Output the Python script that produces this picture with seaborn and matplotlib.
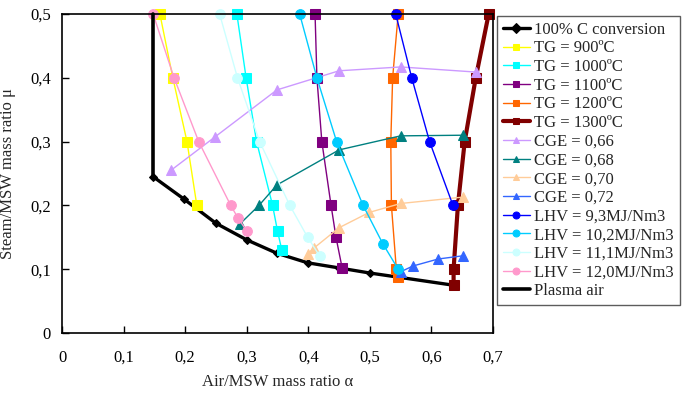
import matplotlib
matplotlib.use("Agg")
import matplotlib.pyplot as plt
import seaborn as sns
import numpy as np
from matplotlib.ticker import FuncFormatter, MultipleLocator

# ---- data ----
c100_x = [0.148, 0.198, 0.250, 0.300, 0.349, 0.399, 0.450, 0.500, 0.550, 0.635]
c100_y = [0.245, 0.210, 0.172, 0.146, 0.125, 0.110, 0.102, 0.094, 0.087, 0.075]

tg900_x = [0.159, 0.180, 0.203, 0.219]
tg900_y = [0.50, 0.40, 0.30, 0.20]
tg1000_x = [0.284, 0.299, 0.316, 0.342, 0.350, 0.357]
tg1000_y = [0.50, 0.40, 0.30, 0.20, 0.16, 0.13]
tg1100_x = [0.411, 0.414, 0.422, 0.437, 0.445, 0.455]
tg1100_y = [0.50, 0.40, 0.30, 0.20, 0.15, 0.102]
tg1200_x = [0.546, 0.537, 0.534, 0.535, 0.543, 0.546]
tg1200_y = [0.50, 0.40, 0.30, 0.20, 0.10, 0.088]
tg1300_x = [0.693, 0.672, 0.654, 0.643, 0.636, 0.636]
tg1300_y = [0.50, 0.40, 0.30, 0.20, 0.10, 0.075]

cge66_x = [0.177, 0.248, 0.349, 0.450, 0.550, 0.672]
cge66_y = [0.255, 0.307, 0.381, 0.411, 0.417, 0.409]
cge68_x = [0.289, 0.320, 0.349, 0.450, 0.550, 0.651]
cge68_y = [0.171, 0.200, 0.232, 0.287, 0.309, 0.310]
cge70_x = [0.399, 0.409, 0.450, 0.499, 0.550, 0.651]
cge70_y = [0.124, 0.133, 0.165, 0.189, 0.203, 0.213]
cge72_x = [0.550, 0.570, 0.611, 0.651]
cge72_y = [0.096, 0.105, 0.116, 0.121]

lhv93_x = [0.542, 0.568, 0.597, 0.635]
lhv93_y = [0.50, 0.40, 0.30, 0.20]
lhv102_x = [0.386, 0.414, 0.446, 0.489, 0.521, 0.546]
lhv102_y = [0.50, 0.40, 0.30, 0.20, 0.14, 0.10]
lhv111_x = [0.256, 0.285, 0.321, 0.370, 0.399, 0.419]
lhv111_y = [0.50, 0.40, 0.30, 0.20, 0.15, 0.12]
lhv120_x = [0.148, 0.182, 0.222, 0.274, 0.286, 0.300]
lhv120_y = [0.50, 0.40, 0.30, 0.20, 0.18, 0.16]

plasma_x = [0.148, 0.148]
plasma_y = [0.500, 0.245]

x_ticks = [0, 0.1, 0.2, 0.3, 0.4, 0.5, 0.6, 0.7]
y_ticks = [0, 0.1, 0.2, 0.3, 0.4, 0.5]

series = [
    ("100% C conversion", c100_x, c100_y, "#000000", "D", 2.4, 4.5),
    ("TG = 900ºC", tg900_x, tg900_y, "#ffff00", "s", 1.0, 6.5),
    ("TG = 1000ºC", tg1000_x, tg1000_y, "#00ffff", "s", 1.0, 6.5),
    ("TG = 1100ºC", tg1100_x, tg1100_y, "#800080", "s", 1.0, 6.5),
    ("TG = 1200ºC", tg1200_x, tg1200_y, "#ff6600", "s", 1.0, 6.5),
    ("TG = 1300ºC", tg1300_x, tg1300_y, "#800000", "s", 3.0, 6.5),
    ("CGE = 0,66", cge66_x, cge66_y, "#cc99ff", "^", 1.0, 7),
    ("CGE = 0,68", cge68_x, cge68_y, "#008080", "^", 1.0, 7),
    ("CGE = 0,70", cge70_x, cge70_y, "#ffcc99", "^", 1.0, 7),
    ("CGE = 0,72", cge72_x, cge72_y, "#3366ff", "^", 1.0, 7),
    ("LHV = 9,3MJ/Nm3", lhv93_x, lhv93_y, "#0000ff", "o", 1.0, 7),
    ("LHV = 10,2MJ/Nm3", lhv102_x, lhv102_y, "#00ccff", "o", 1.0, 7),
    ("LHV = 11,1MJ/Nm3", lhv111_x, lhv111_y, "#ccffff", "o", 1.0, 7),
    ("LHV = 12,0MJ/Nm3", lhv120_x, lhv120_y, "#ff99cc", "o", 1.0, 7),
    ("Plasma air", plasma_x, plasma_y, "#000000", None, 2.6, 0),
]

sns.set_style("ticks")
plt.rcParams['font.family'] = ['Liberation Serif', 'DejaVu Serif']
plt.rcParams['mathtext.fontset'] = 'stix'

fig = plt.figure(figsize=(6.85, 3.96), dpi=100)
ax = fig.add_axes([62/685, 1-333/396, (493-62)/685, (333-14)/396])

for name, xs, ys, col, mk, lw, ms in series:
    kw = dict(marker=mk, markersize=ms, markeredgecolor=col, markerfacecolor=col) if mk else {}
    sns.lineplot(x=xs, y=ys, ax=ax, sort=False, estimator=None, color=col,
                 linewidth=lw, label=name, clip_on=False, **kw)

ax.set_xlim(0, 0.7)
ax.set_ylim(0, 0.5)
ax.set_xticks(x_ticks)
ax.set_yticks(y_ticks)
fmt = FuncFormatter(lambda v, p: "0" if abs(v) < 1e-9 else f"{v:.1f}".replace('.', ','))
ax.xaxis.set_major_formatter(fmt)
ax.yaxis.set_major_formatter(fmt)
ax.tick_params(direction='in', length=5, width=1, labelsize=12, colors='black', pad=8)
ax.tick_params(axis='x', pad=12)
for s in ax.spines.values():
    s.set_color('black')
    s.set_linewidth(1.2)

ax.set_xlabel("Air/MSW mass ratio α", fontsize=12, labelpad=6)
ax.set_ylabel("Steam/MSW mass ratio μ", fontsize=12, labelpad=10)

leg = ax.legend(loc='upper left', bbox_to_anchor=(497/685, 1-16/396), bbox_transform=fig.transFigure,
                fontsize=12, labelspacing=0.16, handlelength=1.6, handletextpad=0.3,
                borderpad=0.35, frameon=True, fancybox=False, borderaxespad=0)
leg.get_frame().set_edgecolor('#333333')
leg.get_frame().set_linewidth(1.0)
for h in leg.legend_handles:
    try:
        h.set_markersize(5)
    except Exception:
        pass

fig.savefig("out.png", dpi=100)
